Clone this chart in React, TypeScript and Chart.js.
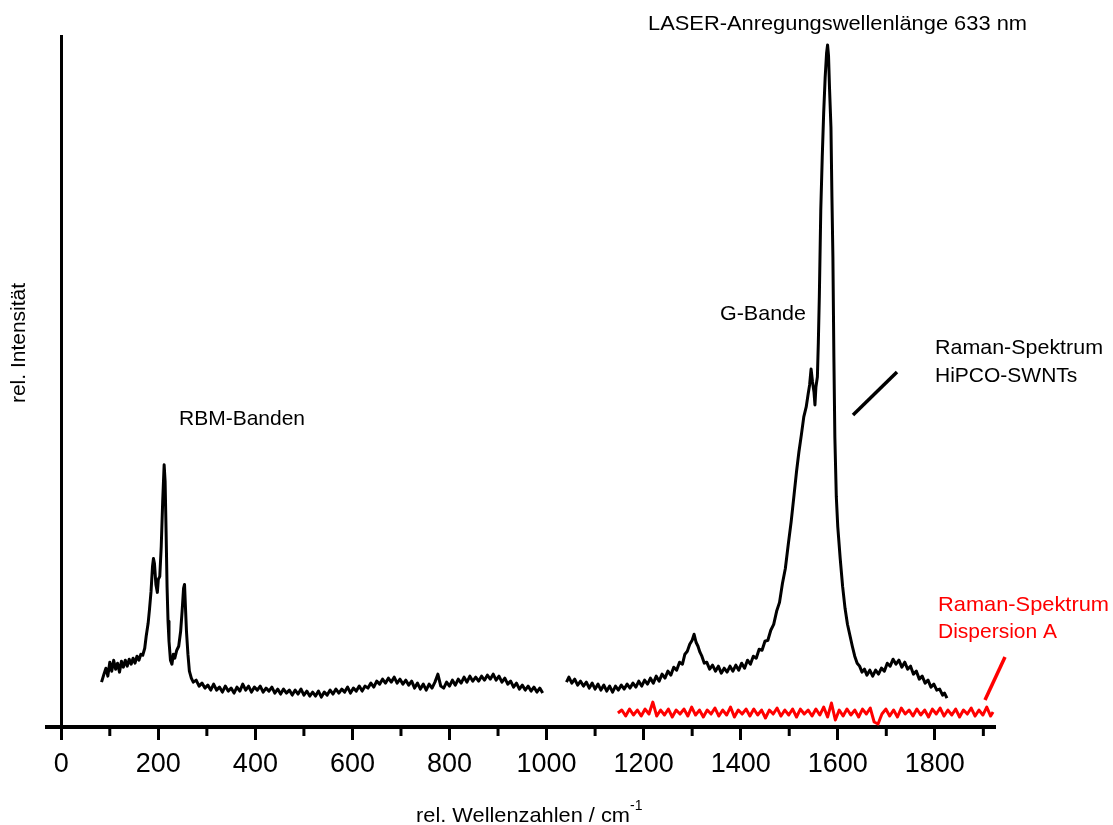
import React, { useEffect, useRef } from "react";
import { Chart, registerables } from "chart.js";

Chart.register(...registerables);

// ---- Data (rel. wavenumber / cm^-1, rel. intensity) ----
const hipcoSegment1: [number, number][] = [
  [83, 44], [88, 52], [92, 58], [96, 50], [100, 64], [104, 55], [108, 66], [112, 57], [116, 63], [120, 54],
  [124, 65], [128, 59], [132, 66], [136, 60], [140, 67], [144, 62], [148, 68], [152, 63], [156, 70], [160, 66],
  [164, 72], [168, 71], [172, 78], [175, 90], [179, 103], [182, 118], [185, 135], [188, 160], [190, 168], [192, 163],
  [195, 142], [198, 134], [200, 147], [203, 150], [206, 180], [209, 225], [212, 262], [214, 245], [216, 195], [218, 140],
  [220, 105], [222, 85], [225, 66], [228, 62], [231, 72], [234, 68], [238, 76], [242, 80], [246, 95], [249, 115],
  [252, 138], [254, 142], [256, 118], [258, 95], [261, 72], [264, 55], [268, 48], [272, 44], [278, 46], [284, 40],
  [290, 43], [296, 38], [302, 41], [308, 36], [314, 42], [320, 36], [326, 39], [332, 34], [338, 40], [344, 35],
  [350, 38], [356, 33], [362, 39], [368, 35], [374, 42], [380, 36], [386, 40], [392, 34], [398, 39], [404, 36],
  [410, 40], [416, 34], [422, 38], [428, 35], [434, 39], [440, 33], [446, 37], [452, 32], [458, 37], [464, 33],
  [470, 36], [476, 31], [482, 36], [488, 32], [494, 37], [500, 31], [506, 35], [512, 30], [518, 34], [524, 30],
  [530, 35], [536, 29], [542, 34], [548, 31], [554, 36], [560, 32], [566, 37], [572, 33], [578, 37], [584, 34],
  [590, 39], [596, 33], [602, 38], [608, 35], [614, 40], [620, 35], [626, 40], [632, 38], [638, 43], [644, 39],
  [650, 45], [656, 42], [662, 47], [668, 43], [674, 48], [680, 44], [686, 49], [692, 43], [698, 47], [704, 42],
  [710, 46], [716, 41], [722, 45], [728, 38], [734, 43], [740, 37], [746, 42], [752, 36], [758, 42], [764, 38],
  [770, 44], [776, 52], [782, 40], [788, 38], [794, 44], [800, 40], [806, 46], [812, 41], [818, 47], [824, 43],
  [830, 49], [836, 44], [842, 50], [848, 45], [854, 49], [860, 45], [866, 50], [872, 46], [878, 51], [884, 47],
  [890, 52], [896, 46], [902, 50], [908, 44], [914, 48], [920, 42], [926, 45], [932, 39], [938, 43], [944, 37],
  [950, 41], [956, 36], [962, 40], [968, 35], [974, 39], [980, 34], [986, 38], [992, 33]
];

const hipcoSegment2: [number, number][] = [
  [1041, 44], [1046, 49], [1052, 43], [1058, 47], [1064, 41], [1070, 45], [1076, 40], [1082, 44], [1088, 38], [1094, 43],
  [1100, 37], [1106, 42], [1112, 36], [1118, 41], [1124, 35], [1130, 40], [1136, 34], [1142, 40], [1148, 36], [1154, 41],
  [1160, 37], [1166, 42], [1172, 38], [1178, 43], [1184, 39], [1190, 45], [1196, 40], [1202, 46], [1208, 42], [1214, 48],
  [1220, 43], [1226, 50], [1232, 45], [1238, 52], [1244, 48], [1250, 55], [1256, 51], [1262, 59], [1268, 56], [1274, 64],
  [1280, 62], [1285, 72], [1290, 75], [1295, 82], [1300, 86], [1304, 92], [1308, 84], [1312, 80], [1316, 74], [1320, 70],
  [1325, 63], [1330, 64], [1336, 57], [1342, 61], [1348, 55], [1354, 60], [1360, 53], [1366, 58], [1372, 54], [1378, 60],
  [1384, 55], [1390, 61], [1396, 56], [1402, 63], [1408, 58], [1414, 66], [1420, 62], [1426, 70], [1432, 68], [1438, 77],
  [1444, 76], [1450, 85], [1456, 86], [1462, 96], [1468, 102], [1474, 115], [1480, 124], [1486, 143], [1492, 158], [1498, 182],
  [1504, 205], [1510, 232], [1515, 255], [1520, 275], [1525, 292], [1530, 310], [1535, 320], [1539, 333], [1542, 342], [1545, 358],
  [1548, 345], [1551, 335], [1553, 322], [1555, 340], [1558, 350], [1560, 385], [1562, 430], [1565, 517], [1568, 570], [1571, 615],
  [1574, 650], [1577, 675], [1579, 683], [1581, 672], [1583, 640], [1586, 600], [1588, 530], [1590, 470], [1592, 370], [1594, 290],
  [1597, 230], [1600, 200], [1605, 168], [1610, 140], [1615, 118], [1620, 102], [1625, 91], [1630, 80], [1635, 70], [1640, 63],
  [1645, 60], [1650, 54], [1655, 57], [1660, 51], [1666, 56], [1672, 50], [1678, 56], [1684, 52], [1690, 58], [1696, 55],
  [1702, 63], [1708, 60], [1714, 67], [1720, 62], [1726, 66], [1732, 59], [1738, 64], [1744, 57], [1750, 60], [1756, 52],
  [1762, 55], [1768, 47], [1774, 50], [1780, 43], [1786, 46], [1792, 39], [1798, 42], [1804, 36], [1810, 37], [1816, 31],
  [1820, 33], [1825, 28]
];

const dispersionA: [number, number][] = [
  [1147, 13], [1155, 16], [1163, 10], [1171, 17], [1179, 11], [1187, 16], [1195, 10], [1203, 17], [1211, 12], [1219, 24],
  [1227, 10], [1235, 16], [1243, 11], [1251, 17], [1259, 9], [1267, 16], [1275, 12], [1283, 17], [1291, 10], [1299, 19],
  [1307, 11], [1315, 16], [1323, 9], [1331, 16], [1339, 12], [1347, 18], [1355, 10], [1363, 16], [1371, 11], [1379, 19],
  [1387, 9], [1395, 16], [1403, 12], [1411, 17], [1419, 10], [1427, 17], [1435, 11], [1443, 16], [1451, 8], [1459, 16],
  [1467, 12], [1475, 18], [1483, 10], [1491, 16], [1499, 11], [1507, 17], [1515, 9], [1523, 17], [1531, 12], [1539, 16],
  [1547, 10], [1555, 17], [1563, 11], [1571, 19], [1579, 9], [1587, 23], [1595, 6], [1603, 16], [1611, 10], [1619, 17],
  [1627, 11], [1635, 16], [1643, 9], [1651, 17], [1659, 12], [1667, 18], [1675, 4], [1683, 2], [1691, 12], [1699, 17],
  [1707, 10], [1715, 16], [1723, 9], [1731, 18], [1739, 12], [1747, 16], [1755, 10], [1763, 17], [1771, 11], [1779, 16],
  [1787, 9], [1795, 17], [1803, 12], [1811, 18], [1819, 10], [1827, 16], [1835, 11], [1843, 17], [1851, 9], [1859, 16],
  [1867, 12], [1875, 18], [1883, 10], [1891, 16], [1899, 11], [1907, 19], [1915, 10], [1920, 14]
];

const majorTicks = [0, 200, 400, 600, 800, 1000, 1200, 1400, 1600, 1800];
const minorTicks = [100, 300, 500, 700, 900, 1100, 1300, 1500, 1700, 1900];
const xLimits = [-30, 1924];
const yLimits = [-1, 692];

const FONT = '"Liberation Sans", Arimo, Arial, Helvetica, sans-serif';

function drawText(
  ctx: CanvasRenderingContext2D,
  text: string,
  x: number,
  y: number,
  size: number,
  color: string,
  width?: number
) {
  ctx.save();
  ctx.font = `${size}px ${FONT}`;
  ctx.fillStyle = color;
  ctx.textAlign = "left";
  ctx.textBaseline = "alphabetic";
  const w = ctx.measureText(text).width;
  ctx.translate(x, y);
  if (width) ctx.scale(width / w, 1);
  ctx.fillText(text, 0, 0);
  ctx.restore();
}

const decorPlugin = {
  id: "decor",
  afterDraw(chart: any) {
    const { ctx, scales, chartArea } = chart;
    const xs = scales.x;
    ctx.save();
    // minor ticks
    ctx.strokeStyle = "#000";
    ctx.lineWidth = 3;
    for (const v of minorTicks) {
      const px = xs.getPixelForValue(v);
      ctx.beginPath();
      ctx.moveTo(px, chartArea.bottom + 2);
      ctx.lineTo(px, chartArea.bottom + 9);
      ctx.stroke();
    }
    // annotations
    drawText(ctx, "LASER-Anregungswellenlänge 633 nm", 648, 30, 21, "#000", 379);
    drawText(ctx, "RBM-Banden", 179, 425, 21, "#000", 126);
    drawText(ctx, "G-Bande", 720, 320, 21, "#000", 86);
    drawText(ctx, "Raman-Spektrum", 935, 354, 21, "#000", 168);
    drawText(ctx, "HiPCO-SWNTs", 935, 382, 21, "#000");
    drawText(ctx, "Raman-Spektrum", 938, 611, 21, "#ff0000", 171);
    drawText(ctx, "Dispersion A", 938, 638, 21, "#ff0000");
    // pointer lines
    ctx.lineWidth = 3.5;
    ctx.strokeStyle = "#000";
    ctx.beginPath();
    ctx.moveTo(853, 415);
    ctx.lineTo(897, 372);
    ctx.stroke();
    ctx.strokeStyle = "#ff0000";
    ctx.beginPath();
    ctx.moveTo(985, 700);
    ctx.lineTo(1005, 657);
    ctx.stroke();
    // axis titles
    drawText(ctx, "rel. Wellenzahlen / cm", 416, 822, 21, "#000", 214);
    drawText(ctx, "-1", 630, 810, 14, "#000");
    ctx.save();
    ctx.translate(25, 343);
    ctx.rotate(-Math.PI / 2);
    ctx.font = `21px ${FONT}`;
    ctx.fillStyle = "#000";
    ctx.textAlign = "center";
    ctx.textBaseline = "alphabetic";
    ctx.fillText("rel. Intensität", 0, 0);
    ctx.restore();
    ctx.restore();
  },
};

export default function App() {
  const canvasRef = useRef<HTMLCanvasElement | null>(null);

  useEffect(() => {
    document.body.style.margin = "0";
    document.body.style.overflow = "hidden";
    const canvas = canvasRef.current;
    if (!canvas) return;
    const toPts = (arr: [number, number][]) => arr.map(([x, y]) => ({ x, y }));
    const lineStyle = {
      borderWidth: 3,
      pointRadius: 0,
      fill: false,
      tension: 0,
      borderJoinStyle: "round" as const,
    };
    const chart = new Chart(canvas, {
      type: "line",
      data: {
        datasets: [
          { label: "HiPCO-SWNTs", data: toPts(hipcoSegment1), borderColor: "#000", ...lineStyle },
          { label: "HiPCO-SWNTs (2)", data: toPts(hipcoSegment2), borderColor: "#000", ...lineStyle },
          { label: "Dispersion A", data: toPts(dispersionA), borderColor: "#ff0000", ...lineStyle },
        ],
      },
      options: {
        responsive: false,
        animation: false,
        events: [],
        layout: { padding: { left: 46.7, right: 118, top: 36, bottom: 0 } },
        plugins: { legend: { display: false }, tooltip: { enabled: false } },
        scales: {
          x: {
            type: "linear",
            position: "bottom",
            min: xLimits[0],
            max: xLimits[1],
            afterBuildTicks: (scale: any) => {
              scale.ticks = majorTicks.map((v) => ({ value: v }));
            },
            afterFit: (scale: any) => {
              scale.height = 98;
            },
            ticks: {
              autoSkip: false,
              maxRotation: 0,
              padding: 8,
              color: "#000",
              font: { family: FONT, size: 27 },
              callback: (v: any) => String(v),
            },
            grid: {
              display: true,
              drawOnChartArea: false,
              drawTicks: true,
              tickLength: 13,
              tickWidth: 3,
              tickColor: "#000",
            },
            border: { display: true, color: "#000", width: 4 },
          },
          y: {
            type: "linear",
            position: { x: 0 } as any,
            min: yLimits[0],
            max: yLimits[1],
            ticks: { display: false },
            grid: { display: false, drawTicks: false },
            border: { display: true, color: "#000", width: 3 },
          },
        },
      },
      plugins: [decorPlugin],
    });
    return () => chart.destroy();
  }, []);

  return (
    <div style={{ width: 1113, height: 825, position: "relative" }}>
      <canvas ref={canvasRef} width={1113} height={825} style={{ display: "block" }} />
    </div>
  );
}
